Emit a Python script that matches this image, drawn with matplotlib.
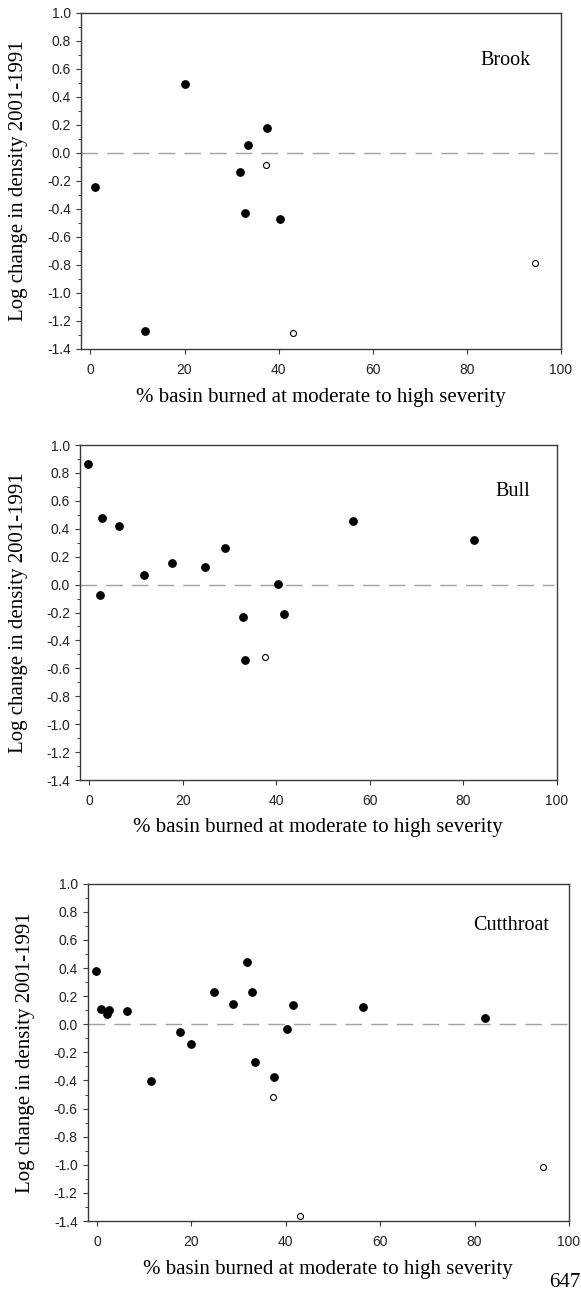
import matplotlib
matplotlib.use("Agg")
import matplotlib.pyplot as plt
from matplotlib.ticker import MultipleLocator

plt.rcParams['axes.unicode_minus'] = False

# Brook
brook_x = [0.9, 20.0, 37.5, 33.5, 31.7, 32.9, 40.4, 11.6]
brook_y = [-0.245, 0.49, 0.18, 0.055, -0.14, -0.43, -0.47, -1.27]
brook_ox = [37.3, 43.0, 94.5]
brook_oy = [-0.09, -1.285, -0.79]

# Bull
bull_x = [-0.2, 2.6, 2.2, 6.3, 11.7, 17.6, 24.8, 29.0, 32.9, 33.4, 40.4, 41.7, 56.4, 82.4]
bull_y = [0.867, 0.48, -0.072, 0.418, 0.072, 0.158, 0.127, 0.263, -0.234, -0.542,
          0.007, -0.213, 0.454, 0.32]
bull_ox = [37.5]
bull_oy = [-0.516]

# Cutthroat
cut_x = [-0.2, 0.8, 2.2, 2.6, 6.3, 11.5, 17.6, 20.0, 24.7, 28.9, 31.7, 32.8, 33.4,
         37.5, 40.3, 41.6, 56.3, 82.3]
cut_y = [0.376, 0.111, 0.071, 0.102, 0.097, -0.402, -0.057, -0.144, 0.227, 0.147,
         0.44, 0.232, -0.272, -0.376, -0.036, 0.137, 0.123, 0.045]
cut_ox = [37.3, 43.0, 94.6]
cut_oy = [-0.521, -1.361, -1.013]

panels = [
    ("Brook", brook_x, brook_y, brook_ox, brook_oy, [0.1394, 0.7297, 0.826, 0.2605], (88.2, 0.662)),
    ("Bull", bull_x, bull_y, bull_ox, bull_oy, [0.1377, 0.3958, 0.8205, 0.2595], (90.6, 0.665)),
    ("Cutthroat", cut_x, cut_y, cut_ox, cut_oy, [0.1509, 0.0542, 0.8284, 0.2613], (87.7, 0.70)),
]

serif = ['Liberation Serif', 'DejaVu Serif']
sans = ['Liberation Sans', 'DejaVu Sans']
axcol = '#3a3a3a'

fig = plt.figure(figsize=(5.81, 12.91), dpi=100)
for name, fx, fy, ox, oy, pos, tpos in panels:
    ax = fig.add_axes(pos)
    ax.axhline(0, xmax=0.995, color='#a0a0a0', lw=1.0, dashes=(12, 6.5), zorder=1)
    ax.plot(fx, fy, 'o', color='black', ms=5.3, zorder=3)
    ax.plot(ox, oy, 'o', mfc='white', mec='black', mew=0.8, ms=4.3, zorder=3)
    ax.set_xlim(-2, 100)
    ax.set_ylim(-1.4, 1.0)
    ax.set_xticks([0, 20, 40, 60, 80, 100])
    ax.yaxis.set_major_locator(MultipleLocator(0.2))
    ax.yaxis.set_minor_locator(MultipleLocator(0.1))
    ax.set_yticklabels(["%.1f" % v for v in ax.get_yticks()])
    for s in ax.spines.values():
        s.set_color(axcol)
        s.set_linewidth(1.0)
    ax.tick_params(axis='y', which='major', length=3.6, width=0.8, color=axcol, pad=3.6,
                   labelsize=10, labelcolor='#222222')
    ax.tick_params(axis='y', which='minor', length=2.2, width=0.7, color=axcol)
    ax.tick_params(axis='x', which='major', length=3.6, width=0.8, color=axcol, pad=6.5,
                   labelsize=10, labelcolor='#222222')
    for lab in ax.get_xticklabels() + ax.get_yticklabels():
        lab.set_family(sans)
    ax.set_xlabel("% basin burned at moderate to high severity", family=serif, fontsize=15)
    ax.set_ylabel("Log change in density 2001-1991", family=serif, fontsize=15)
    ax.xaxis.set_label_coords(0.5, -0.143)
    ax.xaxis.label.set_va('center')
    ax.yaxis.set_label_coords(-0.13, 0.5)
    ax.yaxis.label.set_va('center')
    ax.text(tpos[0], tpos[1], name, family=serif, fontsize=14.5, ha='center', va='center')

# page number in the bottom-right corner
fig.text(580 / 581, 1 - 1287 / 1291, "647", family=serif, fontsize=15, ha='right', va='baseline')

fig.savefig("out.png", dpi=100)
